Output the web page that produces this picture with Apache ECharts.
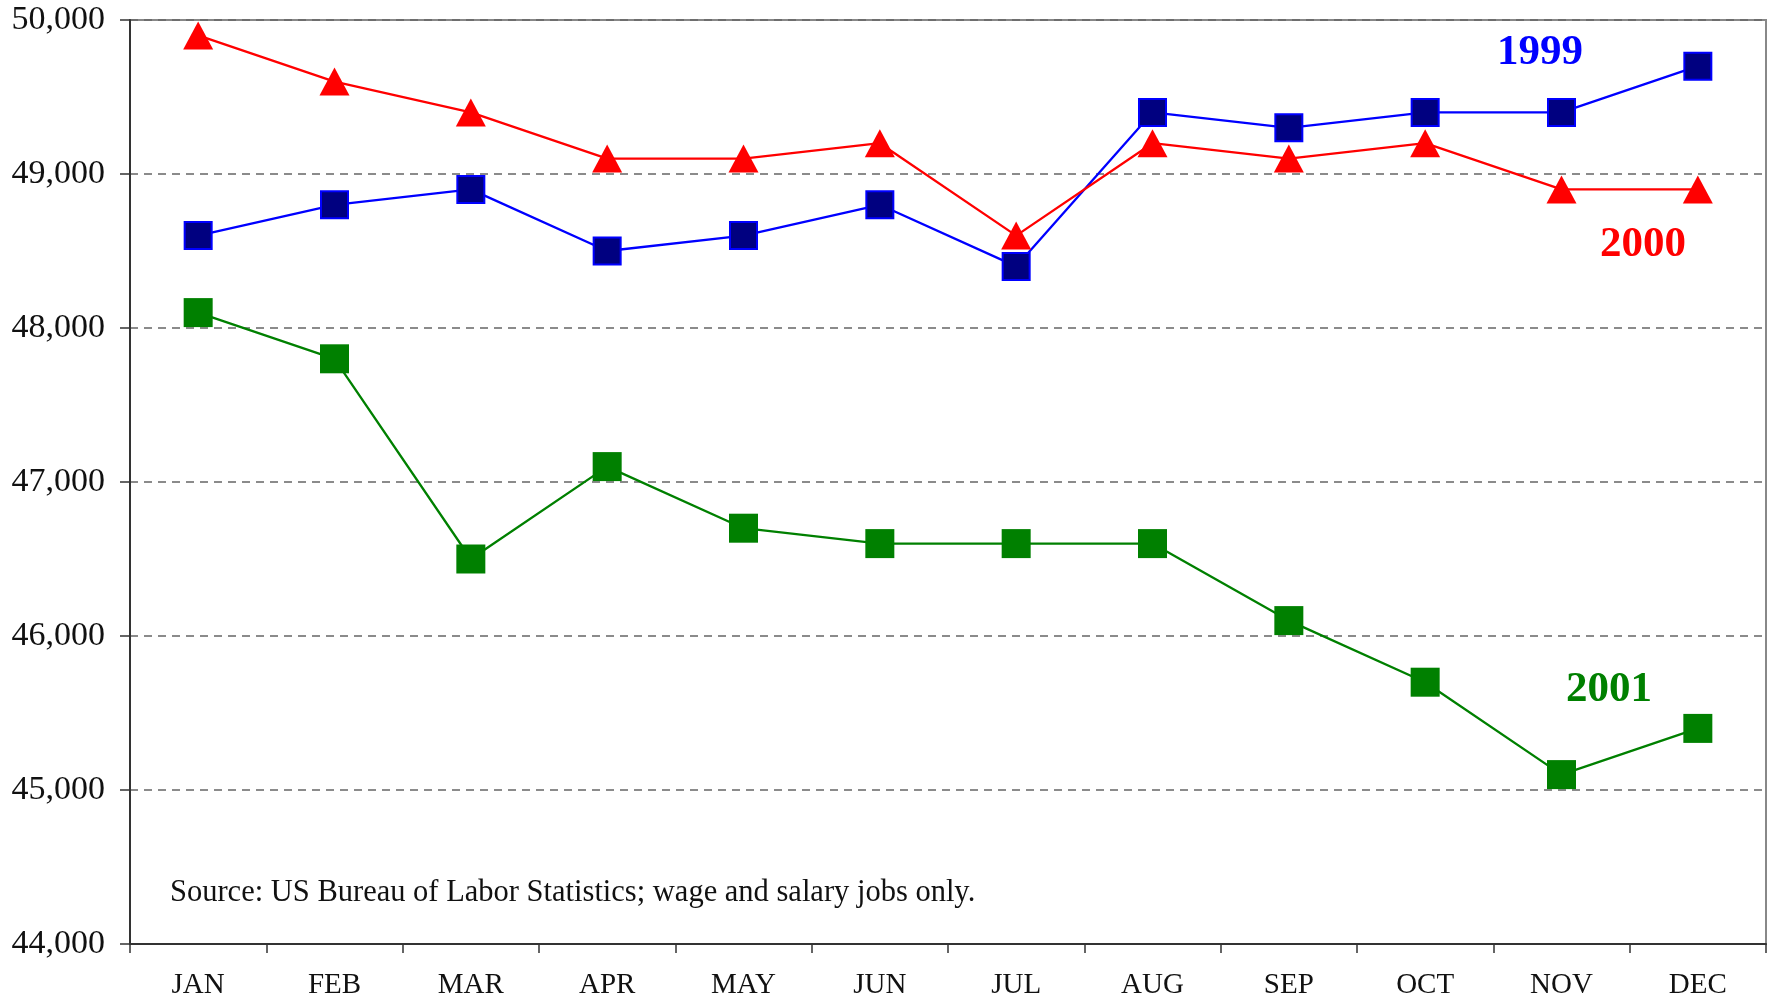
<!DOCTYPE html>
<html><head><meta charset="utf-8">
<script src="https://cdn.jsdelivr.net/npm/echarts@6/dist/echarts.min.js"></script>
<style>html,body{margin:0;padding:0;background:#fff}#c{width:1776px;height:1002px}</style>
</head><body><div id="c"></div>
<script>
const months = ['JAN','FEB','MAR','APR','MAY','JUN','JUL','AUG','SEP','OCT','NOV','DEC'];
const jobs1999 = [48600,48800,48900,48500,48600,48800,48400,49400,49300,49400,49400,49700];
const jobs2000 = [49900,49600,49400,49100,49100,49200,48600,49200,49100,49200,48900,48900];
const jobs2001 = [48100,47800,46500,47100,46700,46600,46600,46600,46100,45700,45100,45400];
const yMin = 44000, yMax = 50000, yStep = 1000;
const sourceNote = 'Source: US Bureau of Labor Statistics; wage and salary jobs only.';

const FONT = '"Liberation Serif", "DejaVu Serif", serif';
const chart = echarts.init(document.getElementById('c'));
chart.setOption({
  animation: false,
  backgroundColor: '#fff',
  grid: {left: 130, top: 20, right: 10, bottom: 58, show: true, borderColor: '#888', borderWidth: 2},
  xAxis: {
    type: 'category', data: months, boundaryGap: true,
    axisLine: {lineStyle: {color: '#333', width: 2}},
    axisTick: {show: true, length: 9, inside: false, lineStyle: {color: '#333', width: 1.5}},
    axisLabel: {fontFamily: FONT, fontSize: 29, color: '#111', margin: 27}
  },
  yAxis: {
    type: 'value', min: yMin, max: yMax, interval: yStep,
    axisLine: {show: true, lineStyle: {color: '#333', width: 2}},
    axisTick: {show: true, length: 10, lineStyle: {color: '#333', width: 1.5}},
    axisLabel: {fontFamily: FONT, fontSize: 34, color: '#111', margin: 25,
      formatter: v => v.toLocaleString('en-US')},
    splitLine: {show: true, lineStyle: {type: [8, 6], color: '#666', width: 1.5}}
  },
  series: [
    {name: '2001', type: 'line', data: jobs2001, symbol: 'rect', symbolSize: 29,
      lineStyle: {color: '#008000', width: 2.3}, itemStyle: {color: '#008000'}, z: 2},
    {name: '1999', type: 'line', data: jobs1999, symbol: 'rect', symbolSize: 27,
      lineStyle: {color: '#0000ff', width: 2.3}, itemStyle: {color: '#000080', borderColor: '#0000ff', borderWidth: 2}, z: 3},
    {name: '2000', type: 'line', data: jobs2000, symbol: 'triangle', symbolSize: [30, 28],
      lineStyle: {color: '#ff0000', width: 2.3}, itemStyle: {color: '#ff0000'}, z: 4}
  ],
  graphic: [
    {type: 'text', left: 1497, top: 31, style: {text: '1999', fill: '#0000ff', font: 'bold 43px ' + FONT}},
    {type: 'text', left: 1600, top: 223, style: {text: '2000', fill: '#ff0000', font: 'bold 43px ' + FONT}},
    {type: 'text', left: 1566, top: 668, style: {text: '2001', fill: '#008000', font: 'bold 43px ' + FONT}},
    {type: 'text', left: 170, top: 877, style: {text: sourceNote, fill: '#111', font: '30.5px ' + FONT}}
  ]
});
</script></body></html>
